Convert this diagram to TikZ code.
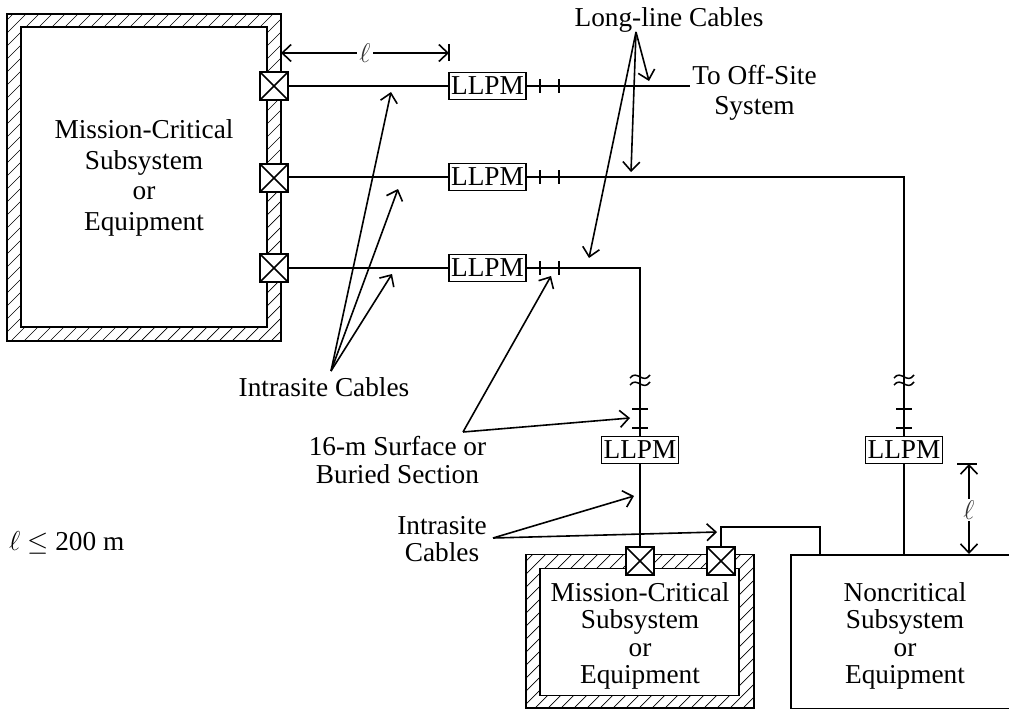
\RequirePackage{fix-cm}
\documentclass[tikz,border=0pt]{standalone}
\usepackage{fontspec}
\setmainfont{Liberation Serif}
\usetikzlibrary{arrows.meta}
\tikzset{
  wire/.style={line width=1.4pt},
  wallline/.style={line width=1.7pt},
  hatchline/.style={line width=0.7pt},
  lbl/.style={font=\fontsize{27.3}{27.5}\selectfont,align=center,inner sep=0pt},
  bigtxt/.style={font=\fontsize{27.3}{30.5}\selectfont,align=center,inner sep=0pt},
  llpm/.style={draw,line width=1.6pt,fill=white,minimum width=77pt,minimum height=27pt,inner sep=0pt,font=\fontsize{27.3}{27}\selectfont},
  xbox/.style={draw,line width=1.7pt,fill=white,minimum size=28pt,inner sep=0pt,
    path picture={\draw[line width=1.6pt] (path picture bounding box.north west)--(path picture bounding box.south east)
      (path picture bounding box.north east)--(path picture bounding box.south west);}},
  lead/.style={line width=1.6pt,-{Straight Barb[length=9pt,width=17pt,line width=1.6pt]}},
  dimarrow/.style={line width=1.6pt,{Straight Barb[length=9pt,width=17pt,line width=1.6pt]}-{Straight Barb[length=9pt,width=17pt,line width=1.6pt]}},
  elltxt/.style={fill=white,inner sep=2pt,font=\fontsize{27}{27}\selectfont,text=black!80},
  tick/.style={line width=1.4pt}
}
\newcommand{\hatchfill}[4]{% x1 y1 x2 y2 : hatched band
  \begin{scope}
    \clip (#1,#2) rectangle (#3,#4);
    \foreach \hk in {0,13,...,1300} {
      \draw[hatchline] (\hk,#2) -- ++(-400,400);
    }
  \end{scope}
}
\begin{document}
\begin{tikzpicture}[x=1pt,y=-1pt]
\clip (0,0) rectangle (1009,709);
\fill[white] (0,0) rectangle (1009,709);

% upper hatched enclosure
\hatchfill{7}{14}{281}{341}
\draw[wallline] (7,14) rectangle (281,341);
\node[draw,wallline,fill=white,minimum width=246pt,minimum height=300pt,inner sep=0pt] (inner1) at (144,177.3) {};
\node[bigtxt] (t1) at (144,178) {Mission-Critical\\Subsystem\\or\\Equipment};

% lower hatched enclosure
\hatchfill{526}{554}{754}{709}
\draw[wallline] (526,554.5) rectangle (754,708);
\node[draw,wallline,fill=white,minimum width=199pt,minimum height=127pt,inner sep=0pt] (inner2) at (639.5,632) {};
\node[lbl] (t2) at (640,636) {Mission-Critical\\Subsystem\\or\\Equipment};

% noncritical box
\node[draw,line width=1.6pt,fill=white,minimum width=300pt,minimum height=154pt,anchor=north west,inner sep=0pt] (nc) at (790,554) {};
\node[lbl] (t3) at (905,636) {Noncritical\\Subsystem\\or\\Equipment};

% connectors boxes
\node[xbox] (x1) at (274,86) {};
\node[xbox] (x2) at (274,178) {};
\node[xbox] (x3) at (274,268) {};
\node[xbox] (x4) at (640,561) {};
\node[xbox] (x5) at (721,561) {};

% LLPM
\node[llpm] (l1) at (487.5,86) {LLPM};
\node[llpm] (l2) at (487.5,177) {LLPM};
\node[llpm] (l3) at (487.5,268) {LLPM};
\node[llpm] (l4) at (640,450) {LLPM};
\node[llpm] (l5) at (904,450) {LLPM};

\coordinate (end1) at (690,86);
\coordinate (n1) at (820,554);
\coordinate (rt) at (820,527);
\coordinate (ntop) at (904,554);

% wires
\draw[wire] (x1.east) -- (l1.west);
\draw[wire] (x2.east |- l2.west) -- (l2.west);
\draw[wire] (x3.east) -- (l3.west);
\draw[wire] (l1.east) -- (end1);
\draw[wire] (l2.east) -| (l5.north);
\draw[wire] (l3.east) -| (l4.north);
\draw[wire] (l4.south) -- (x4.north);
\draw[wire] (l5.south) -- (ntop);
\draw[wire] (x5.north) |- (rt) -- (n1);

% ticks horizontal runs
\foreach \lx in {540,559} {
  \draw[tick] (\lx,79) -- ++(0,14);
  \draw[tick] (\lx,170) -- ++(0,14);
  \draw[tick] (\lx,261) -- ++(0,14);
}
% ticks vertical runs and breaks
\foreach \vx in {640,904} {
  \draw[tick] (\vx-8,409) -- ++(16,0);
  \draw[tick] (\vx-8,428) -- ++(16,0);
  \draw[line width=1.5pt] (\vx-10,378) .. controls (\vx-3,369) and (\vx+3,385) .. (\vx+10,375);
  \draw[line width=1.5pt] (\vx-10,385) .. controls (\vx-3,376) and (\vx+3,392) .. (\vx+10,382);
}

% dimension l top
\coordinate (d1a) at (281,53);
\coordinate (d1b) at (449,53);
\draw[dimarrow] (d1a) -- (d1b);
\draw[tick] (449,44) -- (449,61);
\node[elltxt] (e1) at (365,53) {$\ell$};
% dimension l right
\coordinate (d2a) at (969,464);
\coordinate (d2b) at (969,554);
\draw[dimarrow] (d2a) -- (d2b);
\draw[tick] (957,464) -- (977,464);
\node[elltxt] (e2) at (969,510) {$\ell$};

% labels
\node[lbl] (longline) at (669,20) {Long-line Cables};
\node[bigtxt] (offsite) at (754.5,93) {To Off-Site\\System};
\node[lbl] (intra1) at (324,387) {Intrasite Cables};
\node[lbl] (sec16) at (397.5,460) {16-m Surface or\\Buried Section};
\node[lbl] (intra2) at (442,539) {Intrasite\\Cables};
\node[lbl,anchor=west] (ellnote) at (9,543) {$\ell$ $\leq$ 200 m};

% leader apexes
\coordinate (ap1) at (636,32);
\coordinate (ap2) at (331,371);
\coordinate (ap3) at (463,432);
\coordinate (ap4) at (493,538);
\coordinate (tg1) at (649,81);
\coordinate (tg2) at (631,172);
\coordinate (tg3) at (589,258);
\coordinate (tg4) at (391,92);
\coordinate (tg5) at (398,189);
\coordinate (tg6) at (392,274);
\coordinate (tg7) at (551,276);
\coordinate (tg8) at (630,418);
\coordinate (tg9) at (634,496);
\coordinate (tg10) at (717,532);
\draw[lead] (ap1) -- (tg1);
\draw[lead] (ap1) -- (tg2);
\draw[lead] (ap1) -- (tg3);
\draw[lead] (ap2) -- (tg4);
\draw[lead] (ap2) -- (tg5);
\draw[lead] (ap2) -- (tg6);
\draw[lead] (ap3) -- (tg7);
\draw[lead] (ap3) -- (tg8);
\draw[lead] (ap4) -- (tg9);
\draw[lead] (ap4) -- (tg10);
\end{tikzpicture}
\end{document}
